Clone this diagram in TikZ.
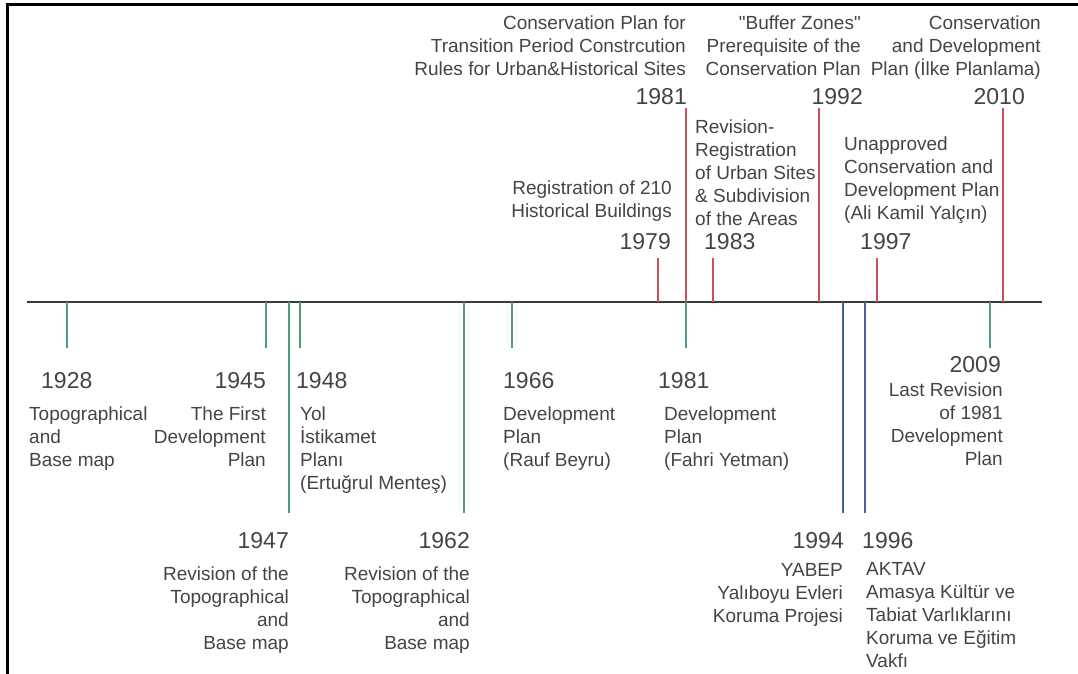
\documentclass[tikz,border=0pt]{standalone}
\usepackage{fontspec}
\setmainfont{Liberation Sans}
\definecolor{tickgreen}{HTML}{4E9E78}
\definecolor{tickred}{HTML}{C9505C}
\definecolor{tickblue}{HTML}{46619E}
\definecolor{axisgray}{HTML}{3A3A3A}
\definecolor{textgray}{HTML}{444444}

\begin{document}
\begin{tikzpicture}[x=1pt, y=-1pt,
    year/.style={inner sep=0pt, text=textgray, font=\fontsize{23}{27}\selectfont},
    note/.style={inner sep=0pt, text=textgray, font=\fontsize{19}{23}\selectfont},
    axis/.style={axisgray, line width=2.6pt},
    gtick/.style={tickgreen, line width=2.2pt},
    rtick/.style={tickred, line width=2.2pt},
    btick/.style={tickblue, line width=2.2pt}]
    \useasboundingbox (0,0) rectangle (1078,674);
    \draw[black, line width=3pt] (7,674) -- (7,4.5) -- (1078,4.5);

    \coordinate (a0) at (27,302);
    \coordinate (a1) at (1042,302);
    \draw[axis] (a0) -- (a1);

    % below the axis
    \coordinate (t1928) at (67,302);   \coordinate (e1928) at (67,348);
    \coordinate (t1945) at (266,302);  \coordinate (e1945) at (266,348);
    \coordinate (t1947) at (289,302);  \coordinate (e1947) at (289,513);
    \coordinate (t1948) at (300,302);  \coordinate (e1948) at (300,348);
    \coordinate (t1962) at (464,302);  \coordinate (e1962) at (464,513);
    \coordinate (t1966) at (512,302);  \coordinate (e1966) at (512,348);
    \coordinate (t1981) at (686,302);  \coordinate (e1981) at (686,348);
    \coordinate (t1994) at (843,302);  \coordinate (e1994) at (843,513);
    \coordinate (t1996) at (865,302);  \coordinate (e1996) at (865,513);
    \coordinate (t2009) at (990,302);  \coordinate (e2009) at (990,348);
    \draw[gtick] (t1928) -- (e1928);
    \draw[gtick] (t1945) -- (e1945);
    \draw[gtick] (t1947) -- (e1947);
    \draw[gtick] (t1948) -- (e1948);
    \draw[gtick] (t1962) -- (e1962);
    \draw[gtick] (t1966) -- (e1966);
    \draw[gtick] (t1981) -- (e1981);
    \draw[btick] (t1994) -- (e1994);
    \draw[btick] (t1996) -- (e1996);
    \draw[gtick] (t2009) -- (e2009);

    % above the axis
    \coordinate (t1979u) at (658,302); \coordinate (e1979u) at (658,258);
    \coordinate (t1981u) at (686,302); \coordinate (e1981u) at (686,108);
    \coordinate (t1983u) at (713,302); \coordinate (e1983u) at (713,258);
    \coordinate (t1992u) at (819,302); \coordinate (e1992u) at (819,108);
    \coordinate (t1997u) at (877,302); \coordinate (e1997u) at (877,258);
    \coordinate (t2010u) at (1003,302); \coordinate (e2010u) at (1003,108);
    \draw[rtick] (t1979u) -- (e1979u);
    \draw[rtick] (t1981u) -- (e1981u);
    \draw[rtick] (t1983u) -- (e1983u);
    \draw[rtick] (t1992u) -- (e1992u);
    \draw[rtick] (t1997u) -- (e1997u);
    \draw[rtick] (t2010u) -- (e2010u);

    % notes are placed by the baseline of their last line
    \node[note, align=right, anchor=base east] (n1981u) at (686,76)
        {Conservation Plan for\\Transition Period Constrcution\\Rules for Urban\&Historical Sites};
    \node[year, anchor=base east] (y1981u) at (687,105) {1981};
    \node[note, align=right, anchor=base east] (n1992u) at (861,76)
        {{\addfontfeature{Ligatures=TeXOff}"Buffer Zones"}\\Prerequisite of the\\Conservation Plan};
    \node[year, anchor=base east] (y1992u) at (863,105) {1992};
    \node[note, align=right, anchor=base east] (n2010u) at (1041,76)
        {Conservation\\and Development\\Plan (İlke Planlama)};
    \node[year, anchor=base east] (y2010u) at (1025,105) {2010};

    \node[note, align=right, anchor=base east] (n1979u) at (672,217)
        {Registration of 210\\Historical Buildings};
    \node[year, anchor=base east] (y1979u) at (671,249) {1979};
    \node[note, align=left, anchor=base west] (n1983u) at (695,225)
        {Revision-\\Registration\\of Urban Sites\\\& Subdivision\\of the Areas};
    \node[year, anchor=base west] (y1983u) at (704,249) {1983};
    \node[note, align=left, anchor=base west] (n1997u) at (844,219)
        {Unapproved\\Conservation and\\Development Plan\\(Ali Kamil Yalçın)};
    \node[year, anchor=base west] (y1997u) at (860,249) {1997};

    \node[year, anchor=base west] (y1928) at (41,388) {1928};
    \node[note, align=left, anchor=base west] (n1928) at (29,466)
        {Topographical\\and\\Base map};
    \node[year, anchor=base east] (y1945) at (266,388) {1945};
    \node[note, align=right, anchor=base east] (n1945) at (266,466)
        {The First\\Development\\Plan};
    \node[year, anchor=base west] (y1948) at (296,388) {1948};
    \node[note, align=left, anchor=base west] (n1948) at (300,489)
        {Yol\\İstikamet\\Planı\\(Ertuğrul Menteş)};
    \node[year, anchor=base east] (y1947) at (289,548) {1947};
    \node[note, align=right, anchor=base east] (n1947) at (289,649)
        {Revision of the\\Topographical\\and\\Base map};
    \node[year, anchor=base east] (y1962) at (470,548) {1962};
    \node[note, align=right, anchor=base east] (n1962) at (470,649)
        {Revision of the\\Topographical\\and\\Base map};
    \node[year, anchor=base west] (y1966) at (503,388) {1966};
    \node[note, align=left, anchor=base west] (n1966) at (503,466)
        {Development\\Plan\\(Rauf Beyru)};
    \node[year, anchor=base west] (y1981) at (658,388) {1981};
    \node[note, align=left, anchor=base west] (n1981) at (664,466)
        {Development\\Plan\\(Fahri Yetman)};
    \node[year, anchor=base east] (y2009) at (1001,372) {2009};
    \node[note, align=right, anchor=base east] (n2009) at (1003,465)
        {Last Revision\\of 1981\\Development\\Plan};
    \node[year, anchor=base east] (y1994) at (844,548) {1994};
    \node[note, align=right, anchor=base east] (n1994) at (843,622)
        {YABEP\\Yalıboyu Evleri\\Koruma Projesi};
    \node[year, anchor=base west] (y1996) at (862,548) {1996};
    \node[note, align=left, anchor=base west] (n1996) at (866,667)
        {AKTAV\\Amasya Kültür ve\\Tabiat Varlıklarını\\Koruma ve Eğitim\\Vakfı};
\end{tikzpicture}
\end{document}
